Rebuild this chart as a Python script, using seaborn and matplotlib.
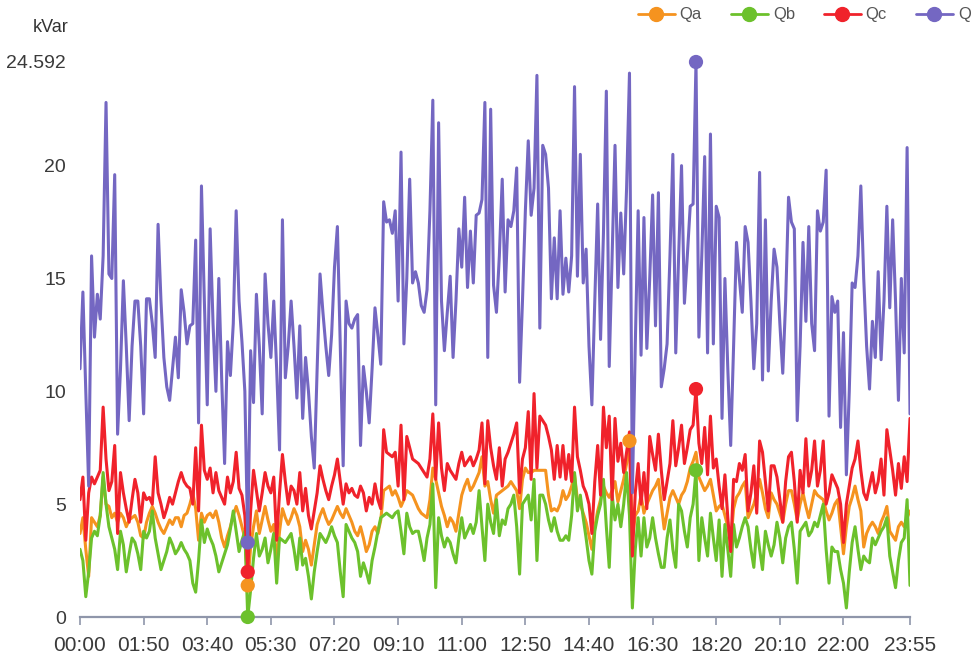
import numpy as np
import pandas as pd
import matplotlib
matplotlib.use("Agg")
import matplotlib.pyplot as plt
import seaborn as sns
from matplotlib.lines import Line2D

# ---- categories: 5-minute time slots ----
times = [f"{h:02d}:{m:02d}" for h in range(24) for m in range(0, 60, 5)]

# ---- series values (kVar) ----
Qa = [3.7, 4.4, 3.0, 1.8, 4.4, 4.2, 4.0, 4.5, 6.2, 5.0,
      4.9, 4.4, 4.6, 4.2, 4.6, 4.4, 4.0, 4.3, 4.4, 4.5,
      4.2, 3.6, 3.5, 4.2, 4.6, 4.9, 4.6, 4.2, 3.9, 3.7,
      4.0, 4.3, 4.1, 4.4, 4.4, 4.0, 4.5, 4.6, 5.0, 5.5,
      4.8, 3.4, 4.6, 4.2, 4.5, 4.6, 4.4, 4.7, 4.2, 3.5,
      3.1, 3.6, 4.0, 4.5, 4.9, 4.5, 4.0, 3.5, 1.4, 3.1,
      4.0, 4.7, 3.7, 4.3, 4.9, 4.3, 3.8, 4.1, 2.4, 3.8,
      4.8, 4.4, 4.1, 4.4, 4.8, 4.5, 4.0, 2.9, 3.4, 3.0,
      2.3, 3.2, 4.1, 4.5, 4.8, 4.4, 4.1, 4.3, 4.6, 4.9,
      4.6, 4.4, 4.8, 4.5, 4.2, 3.8, 3.6, 4.0, 3.5, 2.9,
      3.2, 3.8, 4.0, 3.7, 4.3, 5.6, 5.7, 5.8, 5.4, 5.6,
      5.3, 4.9, 5.2, 5.6, 5.5, 5.4, 5.1, 4.8, 4.6, 4.5,
      4.4, 5.2, 6.6, 6.1, 5.5, 4.9, 4.5, 4.0, 4.4, 4.2,
      3.8, 4.6, 5.4, 5.8, 6.1, 5.6, 5.8, 6.1, 6.4, 7.1,
      5.8, 6.0, 5.2, 4.6, 5.4, 5.5, 5.6, 5.7, 5.8, 6.0,
      5.8, 5.6, 4.8, 6.1, 6.6, 6.4, 6.4, 6.5, 6.5, 6.5,
      6.5, 6.5, 5.4, 4.7, 4.8, 4.7, 5.0, 5.6, 5.2, 5.4,
      5.8, 6.3, 5.2, 5.0, 4.6, 4.2, 3.6, 3.0, 4.0, 4.7,
      5.2, 5.8, 5.5, 5.3, 5.6, 6.0, 5.1, 5.6, 6.1, 6.8,
      7.8, 3.5, 4.5, 4.7, 5.4, 4.6, 5.0, 5.3, 5.6, 5.8,
      6.1, 5.0, 3.9, 4.6, 5.3, 5.6, 5.3, 5.0, 5.4, 5.6,
      6.0, 6.6, 6.9, 7.3, 6.2, 5.9, 5.6, 5.8, 6.1, 5.4,
      4.7, 4.9, 5.0, 4.5, 4.0, 3.3, 4.8, 5.3, 5.5, 5.8,
      6.0, 4.4, 4.7, 5.0, 5.5, 6.1, 5.5, 4.8, 4.4, 5.5,
      5.2, 5.0, 4.6, 4.2, 5.0, 5.6, 5.6, 5.0, 4.3, 5.0,
      5.5, 4.9, 4.4, 5.0, 5.6, 5.4, 5.3, 5.2, 4.7, 4.3,
      4.6, 5.0, 5.2, 4.0, 2.8, 4.0, 4.9, 5.3, 5.8, 5.2,
      4.7, 3.1, 3.7, 4.0, 4.2, 4.0, 3.7, 4.2, 4.5, 4.9,
      3.8, 3.6, 3.4, 4.0, 4.2, 4.0, 4.4, 4.7]

Qb = [3.0, 2.5, 0.9, 2.0, 3.5, 3.8, 3.6, 4.5, 6.4, 5.0,
      4.0, 3.5, 3.0, 2.1, 3.8, 3.2, 2.0, 2.8, 3.5, 3.3,
      2.8, 2.1, 3.8, 3.5, 3.8, 4.7, 3.5, 2.8, 2.1, 2.5,
      2.9, 3.5, 3.2, 2.8, 3.0, 3.3, 3.0, 2.8, 2.5, 1.5,
      1.1, 2.5, 4.3, 3.3, 3.9, 3.5, 3.2, 2.7, 2.0, 2.4,
      2.8, 3.2, 3.9, 4.7, 3.8, 2.9, 3.4, 3.8, 0.0, 1.2,
      2.6, 3.7, 2.7, 3.0, 3.5, 2.4, 3.0, 3.7, 1.5, 3.5,
      3.4, 3.3, 3.5, 3.7, 3.0, 2.1, 3.5, 2.3, 2.6, 1.8,
      0.8, 2.0, 2.9, 3.7, 3.5, 3.3, 3.6, 4.0, 3.6, 3.3,
      2.0, 0.9, 4.1, 3.8, 3.5, 3.3, 2.9, 1.8, 2.4, 2.0,
      1.5, 2.5, 3.1, 3.8, 4.4, 4.5, 4.6, 4.5, 4.4, 4.6,
      4.7, 3.8, 2.8, 4.6, 4.0, 3.7, 3.8, 3.8, 3.2, 2.5,
      3.5, 4.1, 5.9, 1.3, 4.4, 3.6, 3.1, 3.5, 3.3, 2.8,
      2.4, 3.5, 4.4, 3.5, 3.8, 4.1, 3.7, 4.2, 5.6, 4.0,
      2.5, 5.0, 4.2, 3.7, 5.2, 3.6, 4.3, 4.1, 4.8, 5.0,
      5.4, 4.0, 1.9, 5.0, 5.2, 5.4, 4.3, 6.1, 2.5, 5.4,
      5.4, 5.0, 4.3, 3.8, 4.4, 3.8, 3.4, 3.4, 3.6, 3.4,
      4.5, 6.4, 4.7, 5.4, 4.4, 3.5, 2.5, 1.9, 3.8, 4.5,
      5.0, 6.1, 4.0, 2.2, 5.4, 4.3, 5.0, 4.0, 5.0, 6.4,
      4.5, 0.4, 3.0, 4.4, 2.7, 4.4, 3.1, 3.5, 4.4, 3.5,
      2.8, 2.2, 2.2, 3.5, 4.3, 3.0, 2.2, 5.0, 4.7, 3.8,
      3.1, 4.4, 5.0, 6.5, 2.5, 4.4, 3.5, 2.7, 4.6, 3.5,
      2.5, 4.3, 1.8, 4.1, 3.0, 1.8, 4.1, 3.1, 3.5, 4.0,
      4.4, 4.0, 3.0, 2.2, 4.0, 3.0, 2.1, 3.8, 3.2, 2.7,
      3.2, 4.2, 3.5, 2.4, 3.5, 4.0, 4.2, 3.0, 1.5, 3.8,
      4.0, 4.2, 3.6, 3.8, 4.2, 4.0, 4.5, 5.0, 3.0, 1.5,
      3.1, 2.9, 2.9, 2.1, 1.5, 0.4, 2.0, 3.3, 4.0, 3.0,
      2.1, 2.7, 2.5, 2.4, 3.5, 3.2, 3.5, 3.8, 4.0, 4.4,
      2.7, 2.0, 1.3, 2.5, 3.3, 3.5, 5.2, 1.4]

Qc = [5.2, 6.2, 3.4, 5.5, 6.2, 5.9, 6.2, 6.5, 9.3, 7.0,
      5.6, 6.0, 7.6, 3.7, 6.4, 5.5, 4.8, 4.2, 5.2, 6.1,
      5.5, 4.2, 5.5, 5.2, 5.3, 5.0, 7.1, 5.5, 5.0, 4.4,
      4.8, 5.3, 5.0, 5.5, 6.0, 6.4, 6.0, 5.8, 5.7, 5.0,
      7.5, 4.7, 8.5, 6.5, 6.1, 6.6, 5.5, 6.4, 5.6, 5.3,
      5.0, 6.2, 5.5, 6.0, 7.3, 5.7, 5.4, 4.5, 2.0, 4.7,
      6.5, 5.6, 4.7, 5.5, 6.4, 5.8, 5.5, 6.2, 3.4, 5.5,
      7.2, 6.0, 5.0, 5.8, 5.6, 5.0, 6.4, 4.7, 5.7, 4.5,
      3.9, 4.7, 5.5, 6.7, 6.1, 5.6, 5.2, 5.8, 6.3, 7.0,
      6.0, 5.0, 5.9, 5.5, 5.7, 5.4, 5.3, 5.8, 5.5, 4.7,
      5.3, 5.0, 5.9, 5.2, 4.8, 8.3, 7.3, 7.2, 7.1, 7.3,
      5.8, 8.5, 5.2, 8.0, 7.5, 7.0, 6.9, 6.8, 6.6, 6.4,
      6.2, 7.0, 9.0, 6.1, 8.6, 6.6, 5.6, 6.8, 6.5, 6.3,
      6.1, 6.8, 7.3, 6.7, 6.9, 7.1, 6.7, 7.0, 7.4, 8.6,
      5.9, 8.7, 7.5, 6.7, 6.1, 7.5, 5.8, 7.0, 7.3, 7.7,
      8.1, 8.6, 5.5, 7.0, 7.5, 9.1, 6.1, 9.9, 6.6, 8.9,
      8.7, 8.5, 8.0, 7.4, 6.1, 7.6, 6.2, 7.6, 6.1, 7.2,
      6.0, 9.3, 7.1, 6.5, 5.8, 5.5, 5.0, 3.7, 6.0, 7.6,
      5.4, 9.3, 7.5, 8.9, 5.2, 8.8, 6.9, 7.7, 6.4, 7.3,
      8.2, 2.7, 5.5, 6.8, 5.0, 6.4, 4.8, 8.0, 7.2, 6.5,
      8.1, 6.5, 5.2, 6.0, 6.8, 8.7, 6.7, 7.5, 8.5, 6.8,
      7.5, 8.3, 8.5, 10.1, 7.7, 6.8, 8.4, 6.3, 8.9, 6.6,
      7.0, 5.8, 4.8, 6.3, 4.4, 2.9, 6.1, 6.0, 6.8, 6.5,
      7.2, 4.7, 5.5, 6.7, 4.6, 7.8, 7.3, 6.0, 4.7, 6.7,
      6.7, 6.2, 5.2, 4.2, 6.0, 7.1, 7.3, 6.0, 4.2, 6.5,
      5.5, 7.9, 5.8, 6.5, 7.8, 5.8, 6.5, 7.8, 5.0, 5.5,
      6.3, 6.0, 5.7, 5.0, 3.3, 5.0, 5.8, 6.6, 7.0, 7.8,
      6.5, 5.5, 5.2, 5.8, 6.4, 5.5, 6.0, 7.0, 5.4, 8.3,
      7.4, 6.5, 5.4, 6.8, 5.7, 7.1, 6.0, 8.8]

Q = [11.0, 14.4, 10.0, 5.8, 16.0, 12.4, 14.3, 13.2, 16.0, 22.8,
     15.2, 15.0, 19.6, 8.1, 11.0, 14.9, 12.0, 8.7, 12.0, 14.0,
     14.0, 12.0, 9.0, 14.1, 14.1, 13.0, 11.5, 17.4, 14.0, 11.5,
     10.2, 9.6, 11.0, 12.4, 10.6, 14.5, 13.5, 12.1, 12.9, 13.0,
     16.7, 8.6, 19.1, 14.0, 9.4, 17.2, 13.0, 10.0, 15.0, 10.5,
     6.8, 12.2, 10.7, 13.0, 18.0, 14.0, 12.2, 10.0, 3.3, 11.8,
     9.5, 14.3, 12.0, 9.0, 15.2, 13.0, 11.5, 14.0, 11.0, 7.4,
     17.6, 10.6, 12.0, 14.0, 12.0, 9.7, 12.9, 8.8, 11.5, 10.0,
     8.0, 6.6, 11.0, 15.2, 13.5, 12.0, 10.7, 12.5, 15.5, 17.3,
     12.0, 6.7, 14.0, 13.0, 12.8, 13.2, 13.4, 7.6, 11.1, 10.0,
     8.6, 11.0, 13.7, 12.5, 11.2, 18.4, 17.5, 17.6, 17.0, 18.0,
     14.0, 20.6, 12.1, 15.0, 19.4, 14.8, 15.3, 14.8, 13.8, 13.5,
     14.5, 18.0, 22.9, 9.4, 21.9, 14.0, 11.8, 13.5, 15.1, 11.5,
     14.0, 17.2, 15.5, 18.6, 14.6, 17.1, 14.8, 17.8, 17.9, 18.5,
     22.8, 11.5, 22.5, 14.7, 13.5, 16.0, 19.4, 14.4, 17.6, 17.3,
     18.0, 19.9, 10.4, 14.0, 18.0, 21.1, 17.8, 19.0, 24.0, 12.8,
     20.9, 20.5, 19.0, 14.1, 16.8, 14.1, 18.0, 14.3, 15.9, 14.4,
     16.0, 23.5, 15.1, 20.5, 14.8, 16.3, 12.0, 9.4, 14.0, 18.3,
     12.3, 17.0, 23.3, 11.1, 16.0, 20.9, 14.6, 17.9, 15.2, 19.0,
     24.1, 5.5, 12.0, 18.0, 11.6, 17.7, 11.9, 15.0, 18.7, 12.9,
     18.8, 10.2, 11.0, 12.1, 16.0, 20.5, 11.7, 16.0, 20.0, 13.9,
     16.0, 18.2, 18.3, 24.592, 12.4, 16.0, 20.4, 11.7, 21.4, 12.1,
     18.2, 17.7, 8.8, 15.0, 11.0, 7.6, 12.0, 16.6, 15.0, 13.5,
     17.3, 16.6, 14.0, 11.0, 13.0, 19.7, 10.5, 17.6, 10.9, 14.0,
     16.3, 15.5, 13.0, 10.8, 14.0, 18.6, 17.5, 17.2, 8.7, 12.0,
     16.6, 13.1, 17.3, 13.0, 11.8, 18.0, 17.1, 17.5, 19.8, 8.9,
     14.2, 13.5, 14.0, 8.4, 12.6, 6.3, 10.0, 14.8, 14.6, 16.0,
     19.1, 15.0, 12.0, 10.1, 13.1, 11.5, 15.3, 11.4, 14.0, 18.2,
     13.7, 17.6, 14.0, 9.6, 15.0, 11.7, 20.8, 9.0]

series_names = ["Qa", "Qb", "Qc", "Q"]
colors = {"Qa": "#f5931f", "Qb": "#6cc12c", "Qc": "#f0222b", "Q": "#7467c2"}
tick_idx = list(range(0, 265, 22)) + [287]
y_ticks = [0, 5, 10, 15, 20, 24.592]
y_tick_labels = ["0", "5", "10", "15", "20", "24.592"]

for s in (Qa, Qb, Qc, Q):
    assert len(s) == len(times), len(s)

df = pd.DataFrame({"idx": np.arange(len(times)), "time": times,
                   "Qa": Qa, "Qb": Qb, "Qc": Qc, "Q": Q})
long = df.melt(id_vars=["idx", "time"], value_vars=series_names,
               var_name="series", value_name="value")

# max / min mark points per series
marks = []
for s in series_names:
    for j in (df[s].idxmax(), df[s].idxmin()):
        marks.append({"idx": j, "series": s, "value": df.loc[j, s]})
marks = pd.DataFrame(marks)

sns.set_theme(style="white")
plt.rcParams["font.family"] = ["Liberation Sans", "DejaVu Sans"]

fig = plt.figure(figsize=(9.8, 6.63), dpi=100)
ax = fig.add_axes([80 / 980, 46 / 663, 830 / 980, 555 / 663])

sns.lineplot(data=long, x="idx", y="value", hue="series", hue_order=series_names,
             palette=colors, linewidth=2.2, estimator=None, sort=False,
             legend=False, ax=ax, solid_joinstyle="round")
sns.scatterplot(data=marks, x="idx", y="value", hue="series", hue_order=series_names,
                palette=colors, s=105, linewidth=0, legend=False, ax=ax,
                zorder=5, clip_on=False)

ax.set_xlim(0, len(times) - 1)
ax.set_ylim(0, 24.592)
ax.set_xticks(tick_idx)
ax.set_xticklabels([times[i] for i in tick_idx], fontsize=15, color="#3a3a3a")
ax.set_yticks(y_ticks)
ax.set_yticklabels(y_tick_labels, fontsize=14, color="#3a3a3a")
ax.set_xlabel("")
ax.set_ylabel("")
for sp in ("left", "top", "right"):
    ax.spines[sp].set_visible(False)
ax.spines["bottom"].set_color("#8f96aa")
ax.spines["bottom"].set_linewidth(1.6)
ax.tick_params(axis="x", length=6, width=1.2, color="#8f96aa", pad=8, bottom=True)
ax.tick_params(axis="y", length=0, pad=10)
ax.grid(False)

fig.text(33 / 980, 1 - 28 / 663, "kVar", ha="left", va="center",
         fontsize=13, color="#333333")

handles = [Line2D([0], [0], color=colors[s], lw=2, marker="o", markersize=10)
           for s in series_names]
fig.legend(handles, series_names, loc="center left",
           bbox_to_anchor=(638 / 980, 1 - 15 / 663), ncol=4, frameon=False,
           fontsize=12, handlelength=2.2, handletextpad=0.3,
           columnspacing=1.75, labelcolor="#555555", borderaxespad=0,
           borderpad=0)

fig.savefig("out.png", dpi=100, facecolor="white")
